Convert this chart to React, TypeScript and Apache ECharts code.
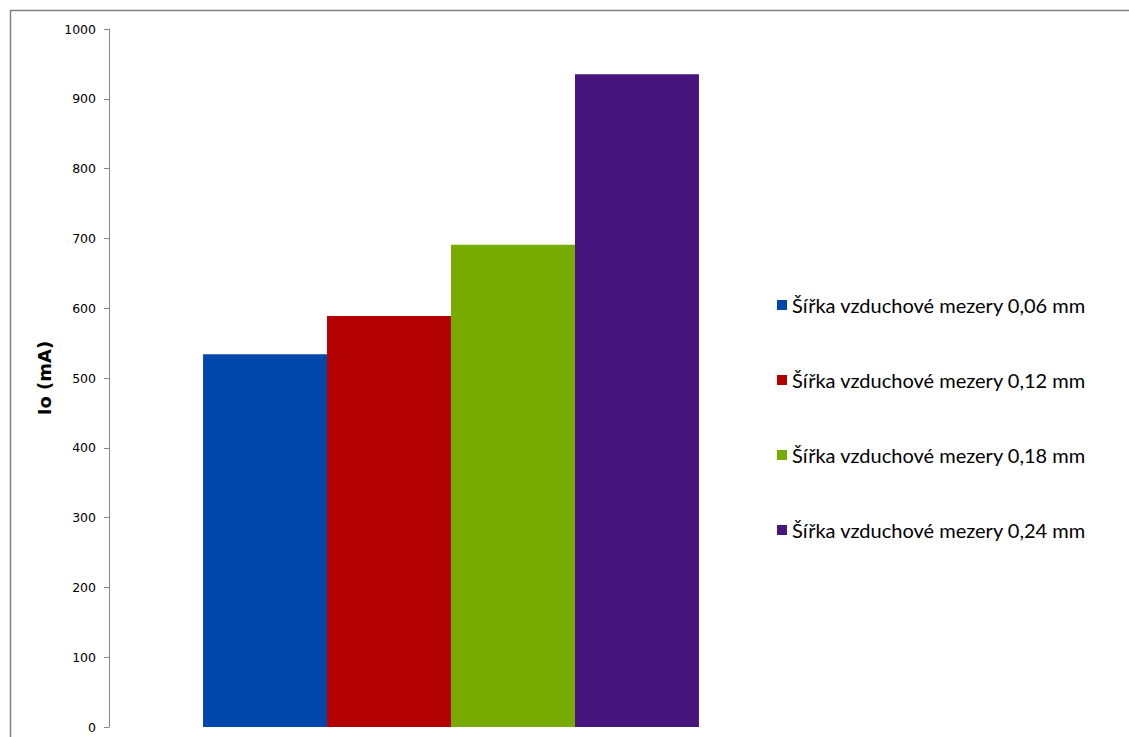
import React, { useEffect, useRef } from "react";
import * as echarts from "echarts";

const seriesNames = [
  "Šířka vzduchové mezery 0,06 mm",
  "Šířka vzduchové mezery 0,12 mm",
  "Šířka vzduchové mezery 0,18 mm",
  "Šířka vzduchové mezery 0,24 mm",
];
const seriesValues = [534, 589, 691, 935];
const seriesColors = ["#0047AB", "#B30000", "#78AB00", "#46157E"];
const categories = [""];
const yAxisTitle = "Io (mA)";

export default function App() {
  const ref = useRef<HTMLDivElement>(null);
  useEffect(() => {
    if (!ref.current) return;
    const chart = echarts.init(ref.current, undefined, { renderer: "svg" });
    chart.setOption({
      animation: false,
      backgroundColor: "#ffffff",
      graphic: [
        {
          type: "rect",
          shape: { x: 10.5, y: 10.5, width: 1200, height: 800 },
          style: { fill: "none", stroke: "#808080", lineWidth: 1.5 },
          silent: true,
        },
      ],
      grid: { left: 109, right: 336, top: 29, bottom: 10 },
      legend: {
        orient: "vertical",
        left: 772,
        top: 290,
        itemWidth: 10,
        itemHeight: 10,
        itemGap: 55,
        itemTextGap: 6,
        icon: "rect",
        textStyle: {
          fontFamily: "Lato",
          fontSize: 20,
          color: "#000",
          lineHeight: 20,
        },
        data: seriesNames,
      },
      xAxis: {
        type: "category",
        data: categories,
        axisLine: { show: false },
        axisTick: { show: false },
        axisLabel: { show: false },
      },
      yAxis: {
        type: "value",
        min: 0,
        max: 1000,
        interval: 100,
        name: yAxisTitle,
        nameLocation: "middle",
        nameGap: 55,
        nameTextStyle: {
          fontFamily: "DejaVu Sans",
          fontWeight: "bold",
          fontSize: 18,
          color: "#000",
        },
        axisLine: { show: true, lineStyle: { color: "#868686", width: 1 } },
        axisTick: { show: true, length: 5, lineStyle: { color: "#868686" } },
        splitLine: { show: false },
        axisLabel: {
          margin: 13,
          fontFamily: "DejaVu Sans",
          fontSize: 12.5,
          color: "#000",
          formatter: (v: number) => String(v),
        },
      },
      series: seriesNames.map((name, i) => ({
        name,
        type: "bar",
        data: [seriesValues[i]],
        barGap: "0%",
        barCategoryGap: "27.5%",
        itemStyle: { color: seriesColors[i] },
      })),
    });
    return () => chart.dispose();
  }, []);
  return (
    <div
      ref={ref}
      style={{ position: "fixed", left: 0, top: 0, width: 1129, height: 737 }}
    />
  );
}
